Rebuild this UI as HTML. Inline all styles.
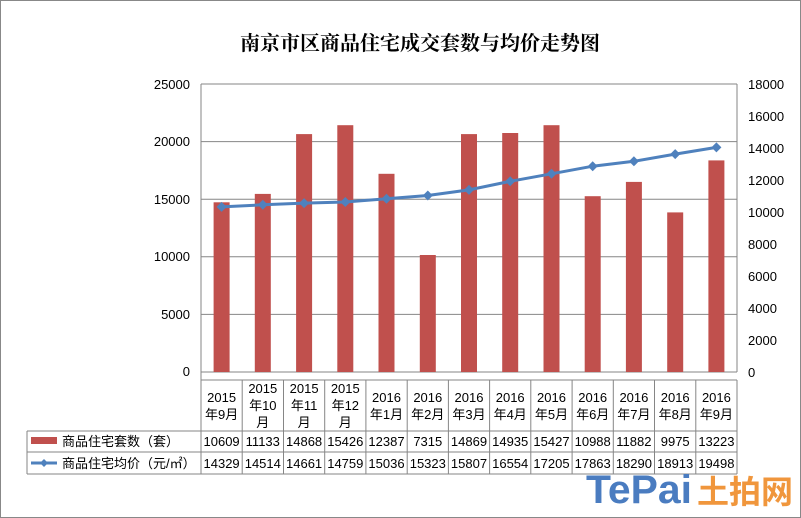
<!DOCTYPE html>
<html><head><meta charset="utf-8"><style>
body{margin:0;background:#fff}
svg{display:block;font-family:"Liberation Sans","Noto Sans CJK SC",sans-serif}
</style></head><body>
<svg width="801" height="518" viewBox="0 0 801 518" xmlns="http://www.w3.org/2000/svg">
<rect x="0.5" y="0.5" width="800" height="517" fill="#fff" stroke="#888"/>
<text x="420" y="50" text-anchor="middle" font-size="20" font-weight="bold" font-family="'Noto Serif CJK SC','Noto Sans CJK SC',serif" fill="#000">南京市区商品住宅成交套数与均价走势图</text>
<g stroke="#868686" stroke-width="1">
<line x1="201" y1="84" x2="737" y2="84"/>
<line x1="201" y1="141.6" x2="737" y2="141.6"/>
<line x1="201" y1="199.2" x2="737" y2="199.2"/>
<line x1="201" y1="256.8" x2="737" y2="256.8"/>
<line x1="201" y1="314.4" x2="737" y2="314.4"/>
<line x1="201" y1="84" x2="201" y2="474"/>
<line x1="737" y1="84" x2="737" y2="372"/>
<line x1="201" y1="372" x2="737" y2="372"/>
</g>
<g font-size="13" fill="#000" text-anchor="end">
<text x="190" y="89">25000</text><text x="190" y="146">20000</text><text x="190" y="204">15000</text><text x="190" y="261">10000</text><text x="190" y="319">5000</text><text x="190" y="376">0</text>
</g>
<g font-size="13" fill="#000">
<text x="748" y="89">18000</text><text x="748" y="121">16000</text><text x="748" y="153">14000</text><text x="748" y="185">12000</text><text x="748" y="217">10000</text><text x="748" y="249">8000</text><text x="748" y="281">6000</text><text x="748" y="313">4000</text><text x="748" y="345">2000</text><text x="748" y="377">0</text>
</g>
<g fill="#c0504d">
<rect x="213.6" y="202.3" width="16" height="169.7"/>
<rect x="254.8" y="193.9" width="16" height="178.1"/>
<rect x="296.1" y="134.1" width="16" height="237.9"/>
<rect x="337.3" y="125.2" width="16" height="246.8"/>
<rect x="378.5" y="173.8" width="16" height="198.2"/>
<rect x="419.8" y="255" width="16" height="117"/>
<rect x="461" y="134.1" width="16" height="237.9"/>
<rect x="502.2" y="133" width="16" height="239"/>
<rect x="543.5" y="125.2" width="16" height="246.8"/>
<rect x="584.7" y="196.2" width="16" height="175.8"/>
<rect x="625.9" y="181.9" width="16" height="190.1"/>
<rect x="667.2" y="212.4" width="16" height="159.6"/>
<rect x="708.4" y="160.4" width="16" height="211.6"/>
</g>
<polyline fill="none" stroke="#4f81bd" stroke-width="3" points="221.6,206.9 262.8,204.8 304.1,203.1 345.3,202 386.5,198.8 427.8,195.5 469,189.9 510.2,181.3 551.5,173.8 592.7,166.2 633.9,161.3 675.2,154.1 716.4,147.4"/>
<g fill="#4f81bd">
<path d="M221.6,201.9l5,5l-5,5l-5,-5z"/><path d="M262.8,199.8l5,5l-5,5l-5,-5z"/><path d="M304.1,198.1l5,5l-5,5l-5,-5z"/><path d="M345.3,197l5,5l-5,5l-5,-5z"/><path d="M386.5,193.8l5,5l-5,5l-5,-5z"/><path d="M427.8,190.5l5,5l-5,5l-5,-5z"/><path d="M469,184.9l5,5l-5,5l-5,-5z"/><path d="M510.2,176.3l5,5l-5,5l-5,-5z"/><path d="M551.5,168.8l5,5l-5,5l-5,-5z"/><path d="M592.7,161.2l5,5l-5,5l-5,-5z"/><path d="M633.9,156.3l5,5l-5,5l-5,-5z"/><path d="M675.2,149.1l5,5l-5,5l-5,-5z"/><path d="M716.4,142.4l5,5l-5,5l-5,-5z"/>
</g>
<g stroke="#868686" stroke-width="1" fill="none">
<line x1="201" y1="380" x2="737" y2="380"/>
<line x1="27" y1="431" x2="737" y2="431"/>
<line x1="27" y1="452" x2="737" y2="452"/>
<line x1="27" y1="474" x2="737" y2="474"/>
<line x1="27" y1="431" x2="27" y2="474"/>
<line x1="242.2" y1="380" x2="242.2" y2="474"/><line x1="283.5" y1="380" x2="283.5" y2="474"/><line x1="324.7" y1="380" x2="324.7" y2="474"/><line x1="365.9" y1="380" x2="365.9" y2="474"/><line x1="407.2" y1="380" x2="407.2" y2="474"/><line x1="448.4" y1="380" x2="448.4" y2="474"/><line x1="489.6" y1="380" x2="489.6" y2="474"/><line x1="530.8" y1="380" x2="530.8" y2="474"/><line x1="572.1" y1="380" x2="572.1" y2="474"/><line x1="613.3" y1="380" x2="613.3" y2="474"/><line x1="654.5" y1="380" x2="654.5" y2="474"/><line x1="695.8" y1="380" x2="695.8" y2="474"/><line x1="737" y1="380" x2="737" y2="474"/>
</g>
<rect x="31" y="437" width="26" height="7" fill="#c0504d"/>
<line x1="31" y1="463" x2="57" y2="463" stroke="#4f81bd" stroke-width="3"/>
<path d="M44,459l4,4l-4,4l-4,-4z" fill="#4f81bd"/>
<g font-size="13" fill="#000">
<text x="62" y="446">商品住宅套数（套）</text>
<text x="62" y="468">商品住宅均价（元/㎡）</text>
</g>
<g font-size="13" fill="#000" text-anchor="middle">
<text x="221.6" y="402">2015</text><text x="221.6" y="419">年9月</text>
<text x="262.8" y="393">2015</text><text x="262.8" y="410">年10</text><text x="262.8" y="427">月</text>
<text x="304.1" y="393">2015</text><text x="304.1" y="410">年11</text><text x="304.1" y="427">月</text>
<text x="345.3" y="393">2015</text><text x="345.3" y="410">年12</text><text x="345.3" y="427">月</text>
<text x="386.5" y="402">2016</text><text x="386.5" y="419">年1月</text>
<text x="427.8" y="402">2016</text><text x="427.8" y="419">年2月</text>
<text x="469" y="402">2016</text><text x="469" y="419">年3月</text>
<text x="510.2" y="402">2016</text><text x="510.2" y="419">年4月</text>
<text x="551.5" y="402">2016</text><text x="551.5" y="419">年5月</text>
<text x="592.7" y="402">2016</text><text x="592.7" y="419">年6月</text>
<text x="633.9" y="402">2016</text><text x="633.9" y="419">年7月</text>
<text x="675.2" y="402">2016</text><text x="675.2" y="419">年8月</text>
<text x="716.4" y="402">2016</text><text x="716.4" y="419">年9月</text>
<text x="221.6" y="446">10609</text><text x="262.8" y="446">11133</text><text x="304.1" y="446">14868</text><text x="345.3" y="446">15426</text><text x="386.5" y="446">12387</text><text x="427.8" y="446">7315</text><text x="469" y="446">14869</text><text x="510.2" y="446">14935</text><text x="551.5" y="446">15427</text><text x="592.7" y="446">10988</text><text x="633.9" y="446">11882</text><text x="675.2" y="446">9975</text><text x="716.4" y="446">13223</text>
<text x="221.6" y="468">14329</text><text x="262.8" y="468">14514</text><text x="304.1" y="468">14661</text><text x="345.3" y="468">14759</text><text x="386.5" y="468">15036</text><text x="427.8" y="468">15323</text><text x="469" y="468">15807</text><text x="510.2" y="468">16554</text><text x="551.5" y="468">17205</text><text x="592.7" y="468">17863</text><text x="633.9" y="468">18290</text><text x="675.2" y="468">18913</text><text x="716.4" y="468">19498</text>
</g>
<text x="586" y="503" font-size="40" font-weight="bold" fill="#4a7cc0" font-family="'Liberation Sans',sans-serif" textLength="106" lengthAdjust="spacingAndGlyphs">TePai</text>
<text x="697" y="503" font-size="32" font-weight="bold" fill="#f0963c" font-family="'Noto Sans CJK SC',sans-serif">土拍网</text>
</svg>
</body></html>
